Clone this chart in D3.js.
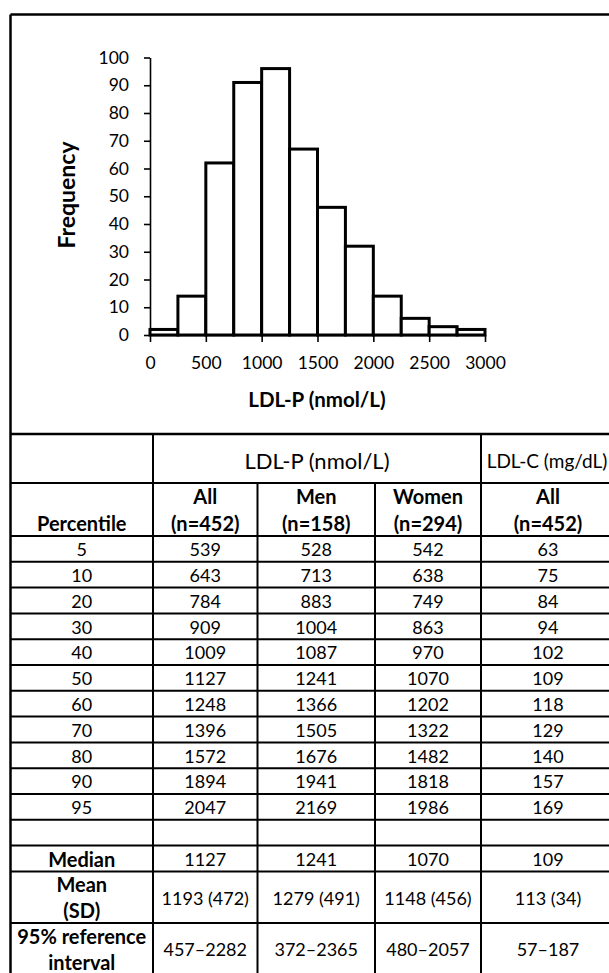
<!DOCTYPE html>
<html>
<head>
<meta charset="utf-8">
<script src="https://cdn.jsdelivr.net/npm/d3@7"></script>
<style>
  body { margin: 0; background: #fff; }
  svg { display: block; font-family: Lato, "Open Sans", sans-serif; }
</style>
</head>
<body>
<div id="chart"></div>
<script>
// histogram bins (LDL-P, width 250)
var binStarts = [0, 250, 500, 750, 1000, 1250, 1500, 1750, 2000, 2250, 2500, 2750];
var binWidth = 250;
var frequency = [2, 14, 62, 91, 96, 67, 46, 32, 14, 6, 3, 2];
var xTicks = [0, 500, 1000, 1500, 2000, 2500, 3000];
var yTicks = [0, 10, 20, 30, 40, 50, 60, 70, 80, 90, 100];

// table
var percentiles = [5, 10, 20, 30, 40, 50, 60, 70, 80, 90, 95];
var allP = [539, 643, 784, 909, 1009, 1127, 1248, 1396, 1572, 1894, 2047];
var menP = [528, 713, 883, 1004, 1087, 1241, 1366, 1505, 1676, 1941, 2169];
var womenP = [542, 638, 749, 863, 970, 1070, 1202, 1322, 1482, 1818, 1986];
var allC = [63, 75, 84, 94, 102, 109, 118, 129, 140, 157, 169];
var groupHeads = [["All", "(n=452)"], ["Men", "(n=158)"], ["Women", "(n=294)"], ["All", "(n=452)"]];
var medians = ["1127", "1241", "1070", "109"];
var meanSD = ["1193 (472)", "1279 (491)", "1148 (456)", "113 (34)"];
var refInterval = ["457–2282", "372–2365", "480–2057", "57–187"];

var width = 609, height = 973;
var svg = d3.select("#chart").append("svg")
  .attr("width", width)
  .attr("height", height);

// ---- histogram ----
var x = d3.scaleLinear().domain([0, 3000]).range([150, 485]);
var y = d3.scaleLinear().domain([0, 100]).range([335, 57.5]);

function styleAxis(g) {
  g.select(".domain").attr("stroke", "#000").attr("stroke-width", 1.6);
  g.selectAll(".tick line").attr("stroke", "#000").attr("stroke-width", 1.6);
  g.selectAll("text").attr("font-size", 17.5).attr("fill", "#000").attr("font-family", "Lato");
}

svg.append("g")
  .attr("transform", "translate(150,0)")
  .call(d3.axisLeft(y).tickValues(yTicks).tickSize(6).tickSizeOuter(0).tickPadding(15))
  .call(styleAxis);

svg.selectAll("rect.bar")
  .data(frequency)
  .enter().append("rect")
  .attr("class", "bar")
  .attr("x", function (d, i) { return x(binStarts[i]); })
  .attr("y", function (d) { return y(d); })
  .attr("width", function (d, i) { return x(binStarts[i] + binWidth) - x(binStarts[i]); })
  .attr("height", function (d) { return y(0) - y(d); })
  .attr("fill", "#fff")
  .attr("stroke", "#000")
  .attr("stroke-width", 3);

svg.append("g")
  .attr("transform", "translate(0,335)")
  .call(d3.axisBottom(x).tickValues(xTicks).tickFormat(d3.format("d")).tickSize(7).tickSizeOuter(0).tickPadding(15))
  .call(styleAxis);

svg.append("text")
  .attr("transform", "translate(67,195) rotate(-90)")
  .attr("text-anchor", "middle")
  .attr("dy", "0.35em")
  .attr("font-size", 23)
  .attr("font-weight", "bold")
  .text("Frequency");

svg.append("text")
  .attr("x", 317)
  .attr("y", 400)
  .attr("dy", "0.35em")
  .attr("text-anchor", "middle")
  .attr("font-size", 20.5)
  .attr("font-weight", "bold")
  .text("LDL-P (nmol/L)");

// ---- table ----
var colEdges = [10.5, 153, 257.5, 375, 481, 615];
var colMid = function (i) { return (colEdges[i] + colEdges[i + 1]) / 2; };
var tableTop = 434, head1 = 483, head2 = 536;
// row scale in units of one plain row
var rowY = d3.scaleLinear().domain([0, 1]).range([head2, head2 + 25.8]);

var rows = percentiles.map(function (p, i) {
  return { label: [String(p)], bold: false, vals: [allP[i], menP[i], womenP[i], allC[i]].map(String), span: 1 };
});
rows.push({ label: [], vals: [], span: 1 });
rows.push({ label: ["Median"], bold: true, vals: medians, span: 1 });
rows.push({ label: ["Mean", "(SD)"], bold: true, vals: meanSD, span: 2 });
rows.push({ label: ["95% reference", "interval"], bold: true, vals: refInterval, span: 2 });
var acc = 0;
rows.forEach(function (r) { r.start = acc; acc += r.span; });

var grid = svg.append("g").attr("stroke", "#000").attr("stroke-width", 2);

// outer frame
grid.append("line").attr("x1", 10.5).attr("x2", 700).attr("y1", 14.5).attr("y2", 14.5).attr("stroke-width", 2.5);
grid.append("line").attr("x1", 10.5).attr("x2", 10.5).attr("y1", 14.5).attr("y2", 1000).attr("stroke-width", 2.5);
grid.append("line").attr("x1", 10.5).attr("x2", 700).attr("y1", tableTop).attr("y2", tableTop).attr("stroke-width", 2.5);
grid.append("line").attr("x1", 10.5).attr("x2", 700).attr("y1", head1).attr("y2", head1);
grid.append("line").attr("x1", 10.5).attr("x2", 700).attr("y1", head2).attr("y2", head2);

grid.selectAll("line.row")
  .data(rows)
  .enter().append("line")
  .attr("class", "row")
  .attr("x1", 10.5).attr("x2", 700)
  .attr("y1", function (r) { return rowY(r.start + r.span); })
  .attr("y2", function (r) { return rowY(r.start + r.span); });

// vertical lines: col 1 and col 4 span from table top, inner ones from header row 2
[1, 4].forEach(function (c) {
  grid.append("line").attr("x1", colEdges[c]).attr("x2", colEdges[c]).attr("y1", tableTop).attr("y2", 1000);
});
[2, 3].forEach(function (c) {
  grid.append("line").attr("x1", colEdges[c]).attr("x2", colEdges[c]).attr("y1", head1).attr("y2", 1000);
});

var txt = svg.append("g").attr("font-size", 18).attr("text-anchor", "middle").attr("fill", "#000");

function cell(cx, cy, s, bold, size) {
  txt.append("text")
    .attr("x", cx).attr("y", cy).attr("dy", "0.35em")
    .attr("font-weight", bold ? "bold" : null)
    .attr("font-size", size || null)
    .text(s);
}

// header row 1
cell((colEdges[1] + colEdges[4]) / 2, 461, "LDL-P (nmol/L)", false, 22);
cell(547, 461, "LDL-C (mg/dL)", false, 19);

// header row 2
cell(colMid(0), 524, "Percentile", true, 20);
groupHeads.forEach(function (h, i) {
  cell(colMid(i + 1), 497, h[0], true, 20);
  cell(colMid(i + 1), 524, h[1], true, 20);
});

// body
rows.forEach(function (r) {
  var mid = (rowY(r.start) + rowY(r.start + r.span)) / 2;
  var n = r.label.length;
  r.label.forEach(function (s, k) {
    cell(colMid(0), mid + 1 + (k - (n - 1) / 2) * 26, s, r.bold, r.bold ? 20 : null);
  });
  r.vals.forEach(function (v, i) {
    cell(colMid(i + 1), mid + 1, v, false);
  });
});
</script>
</body>
</html>
